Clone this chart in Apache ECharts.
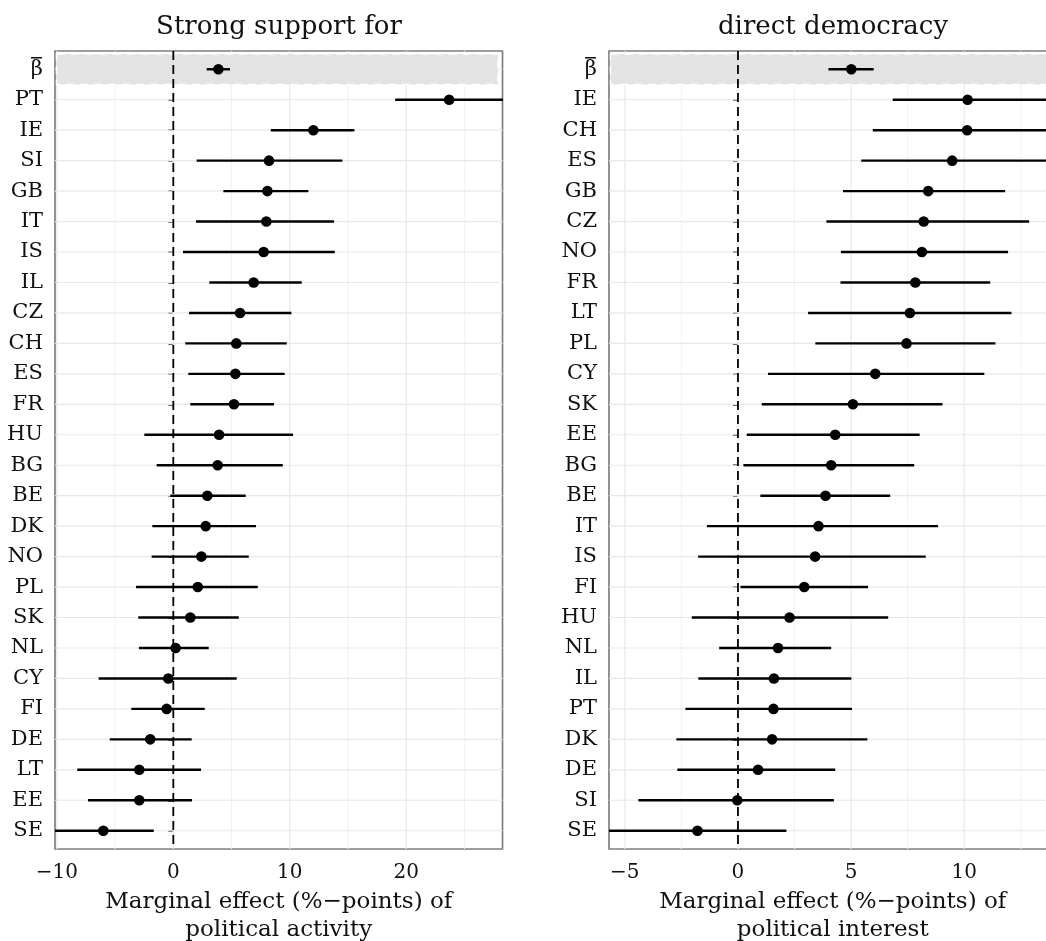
<!DOCTYPE html>
<html>
<head>
<meta charset="utf-8">
<script src="https://cdn.jsdelivr.net/npm/echarts@6/dist/echarts.min.js"></script>
<style>html,body{margin:0;padding:0;background:#fff;}#chart{width:1046px;height:941px;}</style>
</head>
<body>
<div id="chart"></div>
<script>
// ---- Data ----
const BETA = 'β';   // pooled estimate, shown with an overline bar
const activityCountries = [BETA,'PT','IE','SI','GB','IT','IS','IL','CZ','CH','ES','FR','HU','BG','BE','DK','NO','PL','SK','NL','CY','FI','DE','LT','EE','SE'];
const activityEst  = [3.87, 23.69, 12.03, 8.22, 8.08, 7.99, 7.76, 6.90, 5.73, 5.41, 5.33, 5.21, 3.93, 3.81, 2.92, 2.78, 2.41, 2.10, 1.46, 0.20, -0.43, -0.57, -1.98, -2.92, -2.92, -6.01];
const activityLow  = [2.87, 19.05, 8.37, 2.01, 4.30, 1.95, 0.83, 3.09, 1.35, 1.03, 1.29, 1.46, -2.49, -1.43, -0.26, -1.80, -1.86, -3.20, -3.01, -2.95, -6.41, -3.61, -5.46, -8.25, -7.33, -10.35];
const activityHigh = [4.87, 28.33, 15.55, 14.52, 11.60, 13.81, 13.87, 11.03, 10.14, 9.74, 9.57, 8.65, 10.28, 9.40, 6.22, 7.10, 6.48, 7.25, 5.62, 3.04, 5.44, 2.70, 1.58, 2.38, 1.61, -1.68];

const interestCountries = [BETA,'IE','CH','ES','GB','CZ','NO','FR','LT','PL','CY','SK','EE','BG','BE','IT','IS','FI','HU','NL','IL','PT','DK','DE','SI','SE'];
const interestEst  = [5.01, 10.15, 10.13, 9.47, 8.41, 8.21, 8.13, 7.84, 7.60, 7.45, 6.07, 5.08, 4.30, 4.12, 3.87, 3.56, 3.41, 2.93, 2.28, 1.77, 1.59, 1.57, 1.51, 0.89, -0.03, -1.79];
const interestLow  = [4.00, 6.84, 5.96, 5.45, 4.64, 3.91, 4.55, 4.53, 3.10, 3.42, 1.33, 1.05, 0.39, 0.24, 0.99, -1.37, -1.76, 0.11, -2.04, -0.83, -1.75, -2.32, -2.72, -2.68, -4.40, -5.72];
const interestHigh = [6.00, 13.9, 14.3, 13.8, 11.81, 12.87, 11.94, 11.15, 12.09, 11.38, 10.89, 9.04, 8.03, 7.79, 6.73, 8.84, 8.30, 5.75, 6.64, 4.12, 5.01, 5.04, 5.72, 4.30, 4.24, 2.14];

const activityTicks = [-10, 0, 10, 20];
const activityMinor = [-5, 5, 15, 25];
const interestTicks = [-5, 0, 5, 10];
const interestMinor = [-2.5, 2.5, 7.5, 12.5];

const titleLeft = 'Strong support for';
const titleRight = 'direct democracy';
const xNameLeft = 'Marginal effect (%\u2212points) of\npolitical activity';
const xNameRight = 'Marginal effect (%\u2212points) of\npolitical interest';

// ---- Build ----
const FONT = 'DejaVu Serif';
const rowIdx = activityCountries.map((_, i) => i);
const Y_MIN = -0.6, Y_MAX = rowIdx.length - 1 + 0.6;
const Y_FS = 21, Y_MARGIN = 12;

function rows(est, lo, hi) { return est.map((e, i) => [i, e, lo[i], hi[i]]); }

function renderErr(params, api) {
  const y = api.value(0), est = api.value(1), lo = api.value(2), hi = api.value(3);
  const a = api.coord([lo, y]), b = api.coord([hi, y]), c = api.coord([est, y]);
  return { type: 'group', children: [
    { type: 'line', shape: { x1: a[0], y1: a[1], x2: b[0], y2: b[1] }, style: { stroke: '#000', lineWidth: 2.4 } },
    { type: 'circle', shape: { cx: c[0], cy: c[1], r: 5.3 }, style: { fill: '#000' } }
  ]};
}

function makeBackground(xMin, xMax, major, minor) {
  return function (params, api) {
    const ch = [];
    const top = api.coord([xMin, Y_MIN])[1], bot = api.coord([xMin, Y_MAX])[1];
    const left = api.coord([xMin, 0])[0], right = api.coord([xMax, 0])[0];
    minor.forEach(v => { const x = api.coord([v, 0])[0];
      ch.push({ type: 'line', shape: { x1: x, y1: top, x2: x, y2: bot }, style: { stroke: '#f2f2f2', lineWidth: 1 } }); });
    major.forEach(v => { const x = api.coord([v, 0])[0];
      ch.push({ type: 'line', shape: { x1: x, y1: top, x2: x, y2: bot }, style: { stroke: '#e8e8e8', lineWidth: 1.2 } }); });
    rowIdx.forEach(i => { const y = api.coord([xMin, i])[1];
      ch.push({ type: 'line', shape: { x1: left, y1: y, x2: right, y2: y }, style: { stroke: '#e8e8e8', lineWidth: 1.2 } }); });
    // highlighted band for the pooled estimate row
    const b1 = api.coord([xMin, -0.5])[1], b2 = api.coord([xMin, 0.5])[1];
    ch.push({ type: 'rect', shape: { x: left + 1.5, y: b1, width: right - left - 6, height: b2 - b1 },
      style: { fill: '#e3e3e3', stroke: '#ffffff', lineWidth: 1.5, lineDash: [8, 6] } });
    // zero reference line
    const x0 = api.coord([0, 0])[0];
    ch.push({ type: 'line', shape: { x1: x0, y1: top, x2: x0, y2: bot }, style: { stroke: '#000', lineWidth: 1.8, lineDash: [9, 5] } });
    return { type: 'group', children: ch };
  };
}

// overline bar over the β axis label (placed relative to the axis label position)
function makeBetaBar(xMin) {
  return function (params, api) {
    const p = api.coord([xMin, 0]);
    const xr = p[0] - Y_MARGIN - 1, xl = xr - 11, y = p[1] - 11.5;
    return { type: 'line', shape: { x1: xl, y1: y, x2: xr, y2: y }, style: { stroke: '#111', lineWidth: 1.5 } };
  };
}

function fmtNum(v) { return String(v).replace('-', '\u2212'); }

function yAxisFor(gi, labels) {
  return {
    gridIndex: gi, type: 'value', inverse: true, min: Y_MIN, max: Y_MAX,
    axisLine: { show: false }, splitLine: { show: false },
    axisTick: { show: true, customValues: rowIdx, length: 5, lineStyle: { color: '#333', width: 1.5 } },
    axisLabel: { customValues: rowIdx, fontFamily: FONT, fontSize: Y_FS, color: '#111', margin: Y_MARGIN,
      formatter: v => labels[Math.round(v)] }
  };
}
function xAxisFor(gi, min, max, ticks, name) {
  return {
    gridIndex: gi, type: 'value', min: min, max: max,
    axisLine: { show: false }, splitLine: { show: false },
    axisTick: { show: true, customValues: ticks, length: 5, lineStyle: { color: '#333', width: 1.5 } },
    axisLabel: { customValues: ticks, formatter: fmtNum, fontFamily: FONT, fontSize: 20, color: '#111', margin: 14 },
    name: name, nameLocation: 'middle', nameGap: 33,
    nameTextStyle: { fontFamily: FONT, fontSize: 23, lineHeight: 28, color: '#111' }
  };
}

const L_MIN = -10.16, L_MAX = 28.27, R_MIN = -5.70, R_MAX = 14.08;

const option = {
  backgroundColor: '#fff',
  animation: false,
  title: [
    { text: titleLeft, left: 274, top: 9, textAlign: 'center', textStyle: { fontFamily: FONT, fontSize: 26, fontWeight: 'normal', color: '#111' } },
    { text: titleRight, left: 828, top: 9, textAlign: 'center', textStyle: { fontFamily: FONT, fontSize: 26, fontWeight: 'normal', color: '#111' } }
  ],
  grid: [
    { left: 55, top: 51, width: 447.5, bottom: 92, outerBoundsMode: 'none', containLabel: false,
      show: true, backgroundColor: '#fff', borderColor: '#7f7f7f', borderWidth: 1.7 },
    { left: 609, top: 51, width: 447.5, bottom: 92, outerBoundsMode: 'none', containLabel: false,
      show: true, backgroundColor: '#fff', borderColor: '#7f7f7f', borderWidth: 1.7 }
  ],
  xAxis: [ xAxisFor(0, L_MIN, L_MAX, activityTicks, xNameLeft), xAxisFor(1, R_MIN, R_MAX, interestTicks, xNameRight) ],
  yAxis: [ yAxisFor(0, activityCountries), yAxisFor(1, interestCountries) ],
  series: [
    { type: 'custom', xAxisIndex: 0, yAxisIndex: 0, clip: true, z: 1, silent: true, data: [[0, 0]],
      renderItem: makeBackground(L_MIN, L_MAX, activityTicks, activityMinor) },
    { type: 'custom', xAxisIndex: 1, yAxisIndex: 1, clip: true, z: 1, silent: true, data: [[0, 0]],
      renderItem: makeBackground(R_MIN, R_MAX, interestTicks, interestMinor) },
    { type: 'custom', xAxisIndex: 0, yAxisIndex: 0, clip: true, z: 2, encode: { x: [1, 2, 3], y: 0 },
      data: rows(activityEst, activityLow, activityHigh), renderItem: renderErr },
    { type: 'custom', xAxisIndex: 1, yAxisIndex: 1, clip: true, z: 2, encode: { x: [1, 2, 3], y: 0 },
      data: rows(interestEst, interestLow, interestHigh), renderItem: renderErr },
    { type: 'custom', xAxisIndex: 0, yAxisIndex: 0, clip: false, z: 3, silent: true, data: [[0, 0]],
      renderItem: makeBetaBar(L_MIN) },
    { type: 'custom', xAxisIndex: 1, yAxisIndex: 1, clip: false, z: 3, silent: true, data: [[0, 0]],
      renderItem: makeBetaBar(R_MIN) }
  ]
};

const chart = echarts.init(document.getElementById('chart'), null, { renderer: 'canvas' });
chart.setOption(option);
</script>
</body>
</html>
